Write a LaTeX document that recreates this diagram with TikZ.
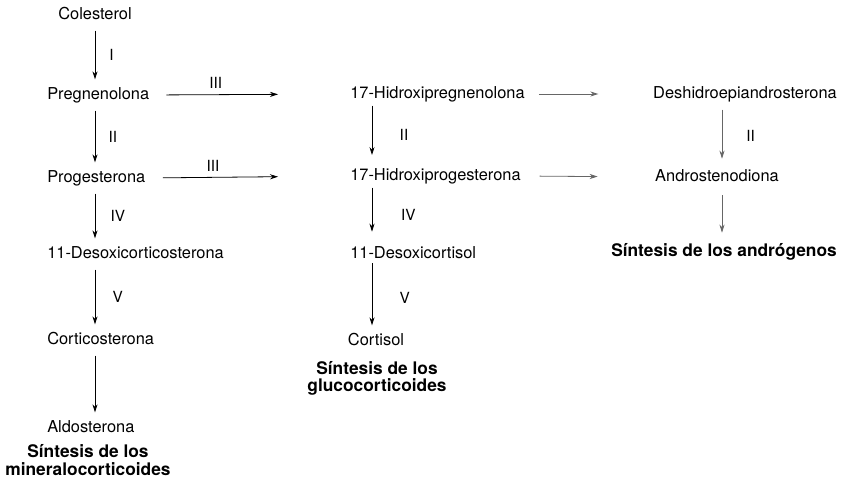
\documentclass[tikz,border=0pt]{standalone}
\usepackage{fontspec}
\setmainfont{TeX Gyre Heros}
\usetikzlibrary{positioning,arrows.meta}
\tikzset{
  cmp/.style={inner xsep=0pt, inner ysep=6pt, font=\fontsize{12.3}{14}\selectfont,
              text height=8.6pt, text depth=2.5pt},
  grp/.style={inner sep=0pt, align=center, font=\fontsize{13}{12.9}\selectfont\bfseries},
  ar/.style={-{Stealth[length=6pt,width=3.8pt]}, line width=0.6pt},
  arf/.style={ar, black!60},
  enz/.style={font=\fontsize{11.5}{13}\selectfont, inner sep=1pt, text=black},
}

\begin{document}
\begin{tikzpicture}[x=0.75pt,y=-0.75pt]
  \useasboundingbox (0,0) rectangle (841,477);
  % columns of the vertical arrows
  \coordinate (colA) at (95,0);
  \coordinate (colB) at (372,0);
  \coordinate (colC) at (722,0);

  % mineralocorticoides
  \node[cmp] (colest) at (95,15) {Colesterol};
  \node[cmp, anchor=west] (preg) at (47,95) {Pregnenolona};
  \node[cmp, anchor=west] (prog) at (47,178) {Progesterona};
  \node[cmp, anchor=west] (docs) at (47,254) {11-Desoxicorticosterona};
  \node[cmp, anchor=west] (cortc) at (47,340) {Corticosterona};
  \node[cmp, anchor=west] (aldo) at (47,428) {Aldosterona};
  \node[grp] (gmin) at (88,460) {Síntesis de los\\mineralocorticoides};

  % glucocorticoides
  \node[cmp, anchor=west] (hpreg) at (350,94) {17-Hidroxipregnenolona};
  \node[cmp, anchor=west] (hprog) at (350,176) {17-Hidroxiprogesterona};
  \node[cmp, anchor=west] (dcort) at (350,254) {11-Desoxicortisol};
  \node[cmp] (cortis) at (376,341) {Cortisol};
  \node[grp] (gglu) at (377,378) {Síntesis de los\\glucocorticoides};

  % andrógenos
  \node[cmp] (dhea) at (745,94) {Deshidroepiandrosterona};
  \node[cmp] (andro) at (717,177) {Androstenodiona};
  \node[grp] (gand) at (724,252) {Síntesis de los andrógenos};

  % vertical steps
  \draw[ar] (colest.south -| colA) -- (preg.north -| colA) node[midway, enz, right=9.5pt] {I};
  \draw[ar] (preg.south -| colA) -- (prog.north -| colA) node[midway, enz, right=9pt] {II};
  \draw[ar] (prog.south -| colA) -- (docs.north -| colA) node[midway, enz, right=10.5pt] {IV};
  \draw[ar] (docs.south -| colA) -- (cortc.north -| colA) node[midway, enz, right=12pt] {V};
  \draw[ar] (cortc.south -| colA) -- (aldo.north -| colA);

  \draw[ar, shorten <=-3pt, shorten >=4pt] (hpreg.south -| colB) -- (hprog.north -| colB) node[midway, enz, right=19.5pt] {II};
  \draw[ar, shorten <=-3pt, shorten >=5pt] (hprog.south -| colB) -- (dcort.north -| colB) node[midway, enz, right=20.5pt] {IV};
  \draw[ar, shorten <=-5pt] (dcort.south -| colB) -- (cortis.north -| colB) node[midway, enz, right=19.5pt] {V};

  \draw[arf, shorten >=2pt] (dhea.south -| colC) -- (andro.north -| colC) node[midway, enz, right=17pt] {II};
  \draw[arf, shorten <=2pt, shorten >=8pt] (andro.south -| colC) -- (gand.north -| colC);

  % horizontal steps
  \draw[ar, shorten <=12.75pt, shorten >=54pt] (preg.east) -- (hpreg.west) node[pos=0.33, enz, above=3pt] {III};
  \draw[ar, shorten <=13pt, shorten >=54pt] (prog.east) -- (hprog.west) node[pos=0.33, enz, above=3pt] {III};
  \draw[arf, shorten <=10.5pt, shorten >=41pt] (hpreg.east) -- (dhea.west);
  \draw[arf, shorten <=14pt, shorten >=43pt] (hprog.east) -- (andro.west);
\end{tikzpicture}
\end{document}
